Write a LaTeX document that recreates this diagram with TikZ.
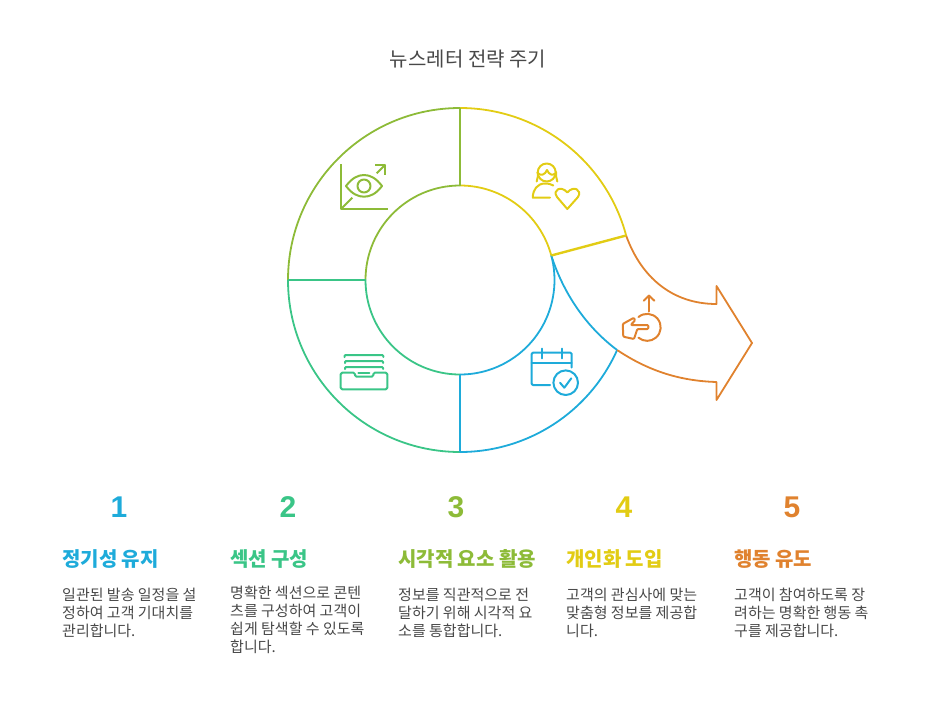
\documentclass[tikz,border=0pt]{standalone}
\usepackage{fontspec}
\setmainfont{Noto Sans CJK KR}
\newfontfamily\numfont{Liberation Sans}
\definecolor{cblue}{HTML}{1EABDA}
\definecolor{cteal}{HTML}{3AC587}
\definecolor{colive}{HTML}{8DBB38}
\definecolor{cyel}{HTML}{E2CC14}
\definecolor{corg}{HTML}{E0822E}
\definecolor{ctxt}{HTML}{484848}
\tikzset{
 ring/.style={line width=1.8pt},
 divider/.style={line width=2.4pt},
 icon/.style={line width=2pt,line join=round,line cap=round},
 numtxt/.style={font=\numfont\fontsize{30}{30}\selectfont\bfseries,inner sep=0pt,anchor=center},
 headtxt/.style={font=\fontsize{20}{24}\selectfont\bfseries,inner sep=0pt,anchor=west},
 bodytxt/.style={font=\fontsize{15}{18}\selectfont,text=ctxt,inner sep=0pt,anchor=north west,align=left},
}
\begin{document}
\begin{tikzpicture}[x=1pt,y=-1pt]
\useasboundingbox (0,0) rectangle (936,704);
\coordinate (c) at (460,280);
\coordinate (ot) at (460,108);
\coordinate (it) at (460,185.5);
\coordinate (ol) at (288,280);
\coordinate (il) at (365.5,280);
\coordinate (ob) at (460,452);
\coordinate (ib) at (460,374.5);
\coordinate (oy) at (626.1,235.5);
\coordinate (iy) at (551.3,255.5);
\coordinate (obl) at (617.1,350);
\coordinate (at1) at (716.5,304);
\coordinate (at2) at (716.5,286);
\coordinate (tip) at (752,343);
\coordinate (ab2) at (716.5,400);
\coordinate (ab1) at (716.5,382);
% rings
\draw[ring,colive] (ot) arc[start angle=90,end angle=180,radius=172pt];
\draw[ring,colive] (it) arc[start angle=90,end angle=180,radius=94.5pt];
\draw[ring,cyel] (ot) arc[start angle=90,end angle=15,radius=172pt];
\draw[ring,cyel] (it) arc[start angle=90,end angle=15,radius=94.5pt];
\draw[ring,cteal] (ol) arc[start angle=180,end angle=270,radius=172pt];
\draw[ring,cteal] (il) arc[start angle=180,end angle=270,radius=94.5pt];
\draw[ring,cblue] (ob) arc[start angle=270,end angle=336,radius=172pt];
\draw[ring,cblue] (ib) arc[start angle=270,end angle=375,radius=94.5pt];
% arrow
\draw[ring,corg,line join=round] (oy) .. controls (641,277) and (672,304) .. (at1) -- (at2) -- (tip) -- (ab2) -- (ab1) .. controls (682,381) and (650,372) .. (obl);
\draw[ring,cblue] (iy) .. controls (563,292) and (585,326) .. (obl);
% dividers
\draw[divider,colive] (ot) -- (it);
\draw[divider,cteal] (ol) -- (il);
\draw[divider,cblue] (ob) -- (ib);
\draw[divider,cyel] (oy) -- (iy);
% eye icon
\begin{scope}[icon,colive,line cap=butt]
\draw[line width=2.2pt] (341,164) -- (341,209) -- (387.7,209);
\draw (341,209) -- (352.3,197.7);
\draw (376.7,173.3) -- (385.3,164.7);
\draw (375,164.7) -- (385.3,164.7) -- (385.3,175.3);
\draw (346,186) .. controls (352,178) and (358,175) .. (364,175) .. controls (370,175) and (376,178) .. (382,186) .. controls (376,194) and (370,196.7) .. (364,196.7) .. controls (358,196.7) and (352,194) .. (346,186) -- cycle;
\draw (364,186) circle[radius=6.5pt];
\end{scope}
% person heart icon
\begin{scope}[icon,cyel]
\draw (546.7,172.5) circle[radius=9pt];
\draw (537.5,173) .. controls (541,176) and (545,175) .. (547,170) .. controls (549,175) and (553,176) .. (555.8,173);
\draw (536.7,181.5) .. controls (538,178) and (538,175) .. (537.8,172);
\draw (557.3,181.5) .. controls (556,178) and (556,175) .. (556,172);
\draw (550,197.7) -- (532.8,197.7) .. controls (532.8,190) and (537,183.5) .. (545,183.5) .. controls (549,183.5) and (551.5,184.5) .. (553.3,185.5);
\draw (567.3,209) -- (557,197) .. controls (552,190) and (561,185) .. (567.3,192.5) .. controls (573.5,185) and (582.5,190) .. (578,197) -- cycle;
\end{scope}
% hand icon
\begin{scope}[icon,corg]
\draw (649,311.5) -- (649,295.5);
\draw (643.7,300.7) -- (649,295.5) -- (654.3,300.7);
\draw (638.5,317) arc[start angle=130,end angle=-130,radius=13.5pt];
\draw[rounded corners=1pt] (622.7,324) -- (634,317.7) -- (635,320.5) -- (630.7,325) -- (648.3,325) -- (648.3,329) -- (637.3,329) -- (634,339) -- (623.3,336.7) -- cycle;
\end{scope}
% calendar icon
\begin{scope}[icon,cblue]
\draw[rounded corners=1.2pt] (550,385) -- (531.7,385) -- (531.7,352.7) -- (571.7,352.7) -- (571.7,367.5);
\draw (531.7,362.7) -- (571.7,362.7);
\draw (542,348.5) -- (542,358.3);
\draw (561.7,348.5) -- (561.7,358.3);
\draw (565.7,382.7) circle[radius=12.3pt];
\draw (560,382.7) -- (564.3,387.7) -- (571.3,378.3);
\end{scope}
% tray icon
\begin{scope}[icon,cteal]
\draw[rounded corners=1.5pt] (340.7,372.7) -- (355,372.7) -- (355,376.7) -- (373.3,376.7) -- (373.3,372.7) -- (387.3,372.7) -- (387.3,389.3) -- (340.7,389.3) -- cycle;
\draw (358.3,372.7) -- (369.3,372.7);
\draw[rounded corners=1pt] (344.5,357) -- (344.5,355) -- (383.3,355) -- (383.3,357);
\draw[rounded corners=1pt] (345,363) -- (345,361) -- (383,361) -- (383,363);
\draw[rounded corners=1pt] (345,369) -- (345,367) -- (383,367) -- (383,369);
\end{scope}
% texts
\node[inner sep=0pt,text=ctxt,font=\fontsize{20}{24}\selectfont] (title) at (468,59.5) {뉴스레터 전략 주기};
\node[numtxt,text=cblue] (n1) at (119,507) {1};
\node[numtxt,text=cteal] (n2) at (288,507) {2};
\node[numtxt,text=colive] (n3) at (456,507) {3};
\node[numtxt,text=cyel] (n4) at (624,507) {4};
\node[numtxt,text=corg] (n5) at (792,507) {5};
\node[headtxt,text=cblue] (h1) at (62,559) {정기성 유지};
\node[headtxt,text=cteal] (h2) at (230,559) {섹션 구성};
\node[headtxt,text=colive] (h3) at (398,559) {시각적 요소 활용};
\node[headtxt,text=cyel] (h4) at (566,559) {개인화 도입};
\node[headtxt,text=corg] (h5) at (734,559) {행동 유도};
\node[bodytxt] (b1) at (62,588) {일관된 발송 일정을 설\\정하여 고객 기대치를\\관리합니다.};
\node[bodytxt] (b2) at (230,586) {명확한 섹션으로 콘텐\\츠를 구성하여 고객이\\쉽게 탐색할 수 있도록\\합니다.};
\node[bodytxt] (b3) at (398,588) {정보를 직관적으로 전\\달하기 위해 시각적 요\\소를 통합합니다.};
\node[bodytxt] (b4) at (566,588) {고객의 관심사에 맞는\\맞춤형 정보를 제공합\\니다.};
\node[bodytxt] (b5) at (734,588) {고객이 참여하도록 장\\려하는 명확한 행동 촉\\구를 제공합니다.};
\end{tikzpicture}
\end{document}
